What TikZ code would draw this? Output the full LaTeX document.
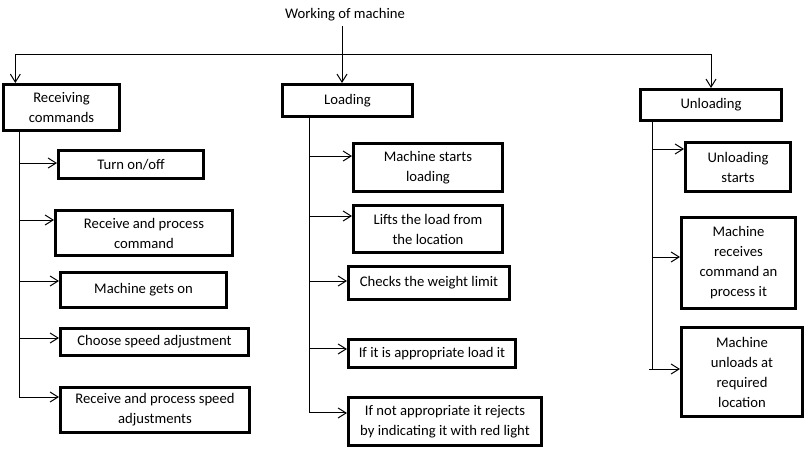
\documentclass[tikz,border=0pt]{standalone}
\usepackage{fontspec}
\setmainfont{Carlito}
\usepackage{tikz}
\usetikzlibrary{
  arrows.meta,
  positioning,
  calc
}
\tikzset{
  head box/.style 2 args={
    draw, rectangle, line width=2.25pt,
    minimum width=#1*0.75pt, minimum height=#2*0.75pt,
    inner sep=1pt, align=center
  },
  item box/.style 2 args={
    head box={#1}{#2}
  },
  branch arrow/.style={
    -{Straight Barb[length=6pt, width=7.5pt]}, line width=0.75pt, draw=black
  },
  trunk line/.style={
    line width=0.75pt, draw=black
  },
}

\begin{document}
\begin{tikzpicture}[x=0.75pt, y=-0.75pt,
  font=\fontsize{11}{15}\selectfont]

  \useasboundingbox (0,0) rectangle (805,457);

  \node (title) at (345,15) {Working of machine};

  \node[head box={116}{46}] (rc) at (61.5,107.5) {Receiving\\commands};
  \node[head box={130}{32}] (ld) at (347.5,100.5) {Loading};
  \node[head box={141}{31}] (ul) at (711,105) {Unloading};

  % receiving commands
  \node[item box={145}{28}] (r1) at (131,164.5) {Turn on/off};
  \node[item box={177}{45}] (r2) at (144,233) {Receive and process\\command};
  \node[item box={166}{35}] (r3) at (143.5,290) {Machine gets on};
  \node[item box={188}{27}] (r4) at (154.5,342) {Choose speed adjustment};
  \node[item box={189}{45}] (r5) at (155,410)
    {Receive and process speed\\adjustments};

  % loading
  \node[item box={149}{48}] (l1) at (428,167.5) {Machine starts\\loading};
  \node[item box={149}{47}] (l2) at (428,229) {Lifts the load from\\the location};
  \node[item box={161}{33}] (l3) at (429,283) {Checks the weight limit};
  \node[item box={167}{28}] (l4) at (432,353.5) {If it is appropriate load it};
  \node[item box={193}{48}] (l5) at (445,421.5)
    {If not appropriate it rejects\\by indicating it with red light};

  % unloading
  \node[item box={105}{49}] (u1) at (738,167) {Unloading\\starts};
  \node[item box={114}{91}] (u2) at (738.5,263)
    {Machine\\receives\\command an\\process it};
  \node[item box={121}{89}] (u3) at (742,372)
    {Machine\\unloads at\\required\\location};

  % top level
  \coordinate (bar) at (342,54);
  \draw[branch arrow] ([xshift=-2.25pt]title.south)
    -- ([xshift=-2.25pt]title.south |- ld.north);
  \draw[trunk line] ([xshift=10pt]rc.north west |- bar) -- (ul.north |- bar);
  \draw[branch arrow] (bar) -| ([xshift=10pt]rc.north west);
  \draw[branch arrow] (bar) -| (ul.north);

  % trunks
  \coordinate (rcT) at (19,0);
  \coordinate (ldT) at (309,0);
  \coordinate (ulT) at (652,0);

  \foreach \n/\s in {r1/1.1, r2/9.75, r3/6.75, r4/3, r5/9.75}{
    \path ([yshift=\s pt]\n.west) coordinate (tip);
    \draw[branch arrow] (rcT |- tip) -- (tip);
  }
  \foreach \n/\s in {l1/8.6, l2/9.75, l3/1.5, l4/3.4, l5/6.4}{
    \path ([yshift=\s pt]\n.west) coordinate (tip);
    \draw[branch arrow] (ldT |- tip) -- (tip);
  }
  \foreach \n/\s in {u1/13.5, u2/4.5, u3/2.25}{
    \path ([yshift=\s pt]\n.west) coordinate (tip);
    \draw[branch arrow] (ulT |- tip) -- (tip);
  }

  \path ([yshift=9.75pt]r5.west) coordinate (r5 in)
        ([yshift=6.4pt]l5.west) coordinate (l5 in)
        ([yshift=2.25pt]u3.west) coordinate (u3 in);
  \draw[trunk line] (rcT |- rc.south) -- (rcT |- r5 in);
  \draw[trunk line] (ldT |- ld.south) -- (ldT |- l5 in);
  \draw[trunk line] ([xshift=-2.25pt]ulT |- u3 in) -| (ulT |- ul.south);

\end{tikzpicture}
\end{document}
